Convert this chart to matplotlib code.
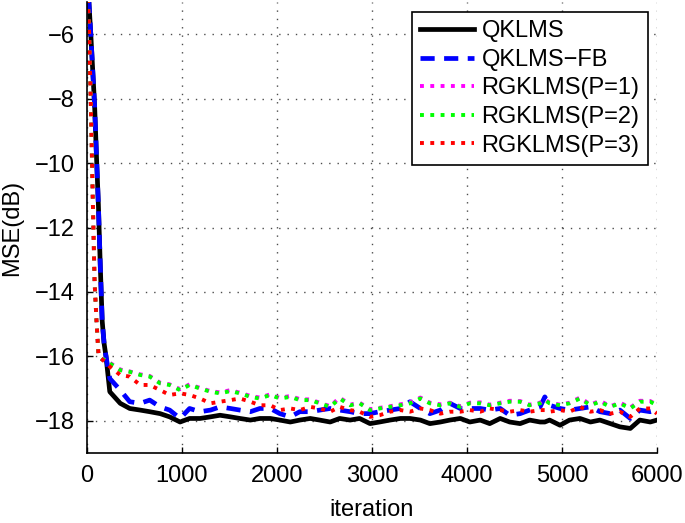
import matplotlib
matplotlib.use("Agg")
import matplotlib.pyplot as plt

plt.rcParams["font.family"] = ["Liberation Sans", "DejaVu Sans"]

# iteration axis
iters = [0, 20, 40, 60, 80, 100, 120, 140, 160, 180, 200,
         240, 350, 450, 560, 660, 770, 870, 980, 1080, 1190, 1300, 1400,
         1510, 1610, 1720, 1820, 1930,
         2030, 2140, 2240, 2350, 2450, 2560, 2660, 2770, 2870, 2980, 3080,
         3190, 3300, 3400, 3510, 3610, 3720, 3820, 3930,
         4030, 4140, 4240, 4350, 4450, 4560, 4660, 4770, 4820, 4870, 4980,
         5080, 5190, 5300, 5400, 5510, 5610, 5720, 5820, 5930, 6000]

mse_qklms = [-3.5, -5.0, -6.0, -7.1, -8.2, -9.8, -11.3, -13.2, -14.9, -15.6, -16.0,
             -17.10, -17.46, -17.62, -17.67, -17.72, -17.78, -17.88, -18.04, -17.93, -17.93,
             -17.88, -17.83, -17.88, -17.93, -17.98, -17.93, -17.93,
             -17.98, -18.04, -17.98, -17.93, -17.98, -18.04, -17.93, -17.98, -17.93, -18.09,
             -18.04, -17.98, -17.93, -17.93, -17.98, -18.09, -18.04, -17.98, -17.93,
             -18.04, -17.98, -18.09, -17.93, -18.04, -18.09, -17.98, -18.04, -18.04, -17.98,
             -18.14, -17.98, -17.93, -18.04, -17.98, -18.09, -18.19, -18.24, -17.98, -18.04,
             -17.98]

mse_qklms_fb = [-3.5, -5.0, -6.0, -7.1, -8.2, -9.8, -11.3, -13.2, -14.9, -15.6, -16.0,
                -16.69, -17.05, -17.41, -17.46, -17.36, -17.57, -17.67, -17.93, -17.62, -17.72,
                -17.67, -17.57, -17.62, -17.67, -17.72, -17.62, -17.62,
                -17.78, -17.88, -17.72, -17.72, -17.67, -17.62, -17.67, -17.72, -17.78, -17.78,
                -17.72, -17.67, -17.62, -17.41, -17.62, -17.78, -17.67, -17.46, -17.62,
                -17.62, -17.62, -17.67, -17.62, -17.83, -17.78, -17.67, -17.57, -17.26, -17.52,
                -17.62, -17.67, -17.62, -17.57, -17.72, -17.78, -17.67, -17.93, -17.67, -17.72,
                -17.67]

mse_rg_p1 = [-4.3, -5.7, -8.1, -11.0, -13.7, -14.9, -15.9, -16.05, -16.1, -16.1, -16.15,
             -16.20, -16.41, -16.47, -16.56, -16.61, -16.82, -16.87, -17.02, -16.87, -16.98,
             -17.08, -17.12, -17.05, -17.13, -17.23, -17.28, -17.18,
             -17.29, -17.23, -17.33, -17.34, -17.44, -17.55, -17.28, -17.50, -17.44, -17.64,
             -17.60, -17.55, -17.49, -17.43, -17.28, -17.44, -17.49, -17.44, -17.55,
             -17.44, -17.43, -17.50, -17.44, -17.38, -17.39, -17.50, -17.44, -17.33, -17.44,
             -17.50, -17.44, -17.28, -17.50, -17.38, -17.55, -17.44, -17.59, -17.38, -17.39,
             -17.50]

mse_rg_p2 = [-4.3, -5.7, -8.1, -11.0, -13.7, -14.9, -15.9, -16.05, -16.1, -16.1, -16.15,
             -16.22, -16.43, -16.48, -16.58, -16.63, -16.84, -16.89, -17.05, -16.89, -17.00,
             -17.10, -17.15, -17.08, -17.15, -17.26, -17.31, -17.20,
             -17.31, -17.26, -17.36, -17.36, -17.46, -17.57, -17.31, -17.52, -17.46, -17.67,
             -17.62, -17.57, -17.52, -17.46, -17.31, -17.46, -17.52, -17.46, -17.57,
             -17.46, -17.46, -17.52, -17.46, -17.41, -17.41, -17.52, -17.46, -17.36, -17.46,
             -17.52, -17.46, -17.31, -17.52, -17.41, -17.57, -17.46, -17.62, -17.41, -17.41,
             -17.52]

mse_rg_p3 = [-4.3, -5.7, -8.1, -11.0, -13.7, -14.9, -15.9, -16.05, -16.1, -16.15, -16.2,
             -16.32, -16.58, -16.63, -16.89, -16.89, -17.05, -17.20, -17.15, -17.20, -17.31,
             -17.46, -17.41, -17.36, -17.31, -17.41, -17.52, -17.52,
             -17.67, -17.62, -17.67, -17.57, -17.62, -17.72, -17.57, -17.67, -17.72, -17.88,
             -17.83, -17.72, -17.67, -17.72, -17.62, -17.67, -17.78, -17.72, -17.72,
             -17.67, -17.72, -17.62, -17.67, -17.72, -17.67, -17.72, -17.67, -17.67, -17.72,
             -17.67, -17.72, -17.57, -17.72, -17.67, -17.78, -17.72, -17.88, -17.62, -17.62,
             -17.78]

x_ticks = [0, 1000, 2000, 3000, 4000, 5000, 6000]
y_ticks = [-18, -16, -14, -12, -10, -8, -6]

fig = plt.figure(figsize=(6.85, 5.23), dpi=100)
ax = fig.add_axes([0.127, 0.134, 0.832, 0.862])

ax.plot(iters, mse_qklms, "k-", linewidth=3.4, label="QKLMS")
ax.plot(iters, mse_qklms_fb, "b--", linewidth=3.4, dashes=(3, 2), label="QKLMS\u2212FB")
ax.plot(iters, mse_rg_p1, color="#ff00ff", linestyle=":", linewidth=2.8, label="RGKLMS(P=1)")
ax.plot(iters, mse_rg_p2, color="#00ff00", linestyle=":", linewidth=2.8, label="RGKLMS(P=2)")
ax.plot(iters, mse_rg_p3, color="#ff0000", linestyle=":", linewidth=2.8, label="RGKLMS(P=3)")

ax.set_xlim(0, 6000)
ax.set_ylim(-19, -5)
ax.set_xticks(x_ticks)
ax.set_yticks(y_ticks)
ax.set_yticklabels([f"\u2212{abs(v)}" for v in y_ticks])
ax.tick_params(direction="in", length=4, width=1, labelsize=17, pad=9)
ax.spines["top"].set_visible(False)
ax.spines["right"].set_visible(False)
ax.spines["left"].set_linewidth(1.2)
ax.spines["bottom"].set_linewidth(1.2)
ax.grid(True, color="black", linestyle=(0, (1, 5)), linewidth=1.0, alpha=0.7)

ax.set_xlabel("iteration", fontsize=17, labelpad=8)
ax.set_ylabel("MSE(dB)", fontsize=17, labelpad=8)

leg = ax.legend(loc="upper right", bbox_to_anchor=(0.984, 0.978), borderaxespad=0,
                fontsize=17, handlelength=2.3, handletextpad=0.3, labelspacing=0.28,
                borderpad=0.35, fancybox=False, framealpha=1)
leg.get_frame().set_edgecolor("black")
leg.get_frame().set_linewidth(1.2)

plt.savefig("out.png", dpi=100)
plt.close()
